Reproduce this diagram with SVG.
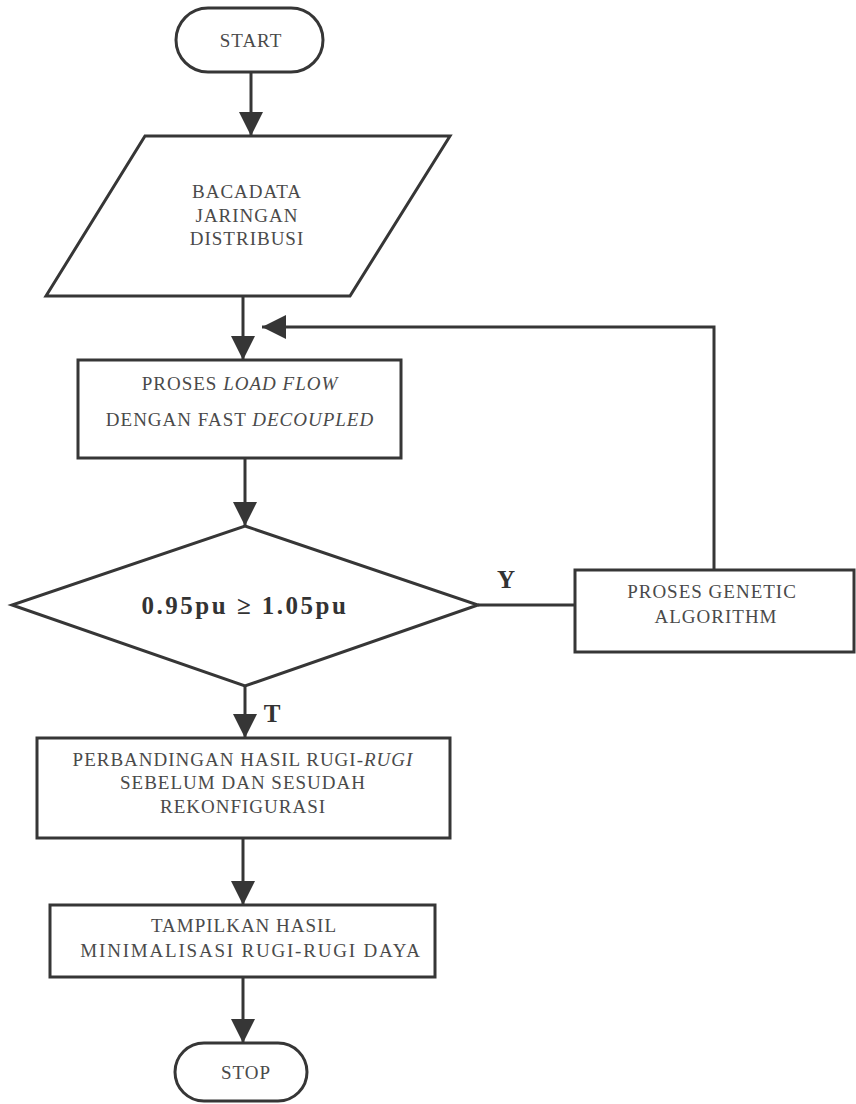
<svg xmlns="http://www.w3.org/2000/svg" width="856" height="1104" viewBox="0 0 856 1104">
  <style>
    .shape { fill: #ffffff; stroke: #363636; stroke-width: 3; }
    .line { fill: none; stroke: #363636; stroke-width: 3; }
    .txt { font-family: "Liberation Serif", "Times New Roman", serif; font-size: 19px; letter-spacing: 1px; fill: #4a4a4a; text-anchor: middle; }
    .wide { letter-spacing: 1.8px; }
    .bold { font-family: "Liberation Serif", "Times New Roman", serif; font-weight: bold; fill: #333333; text-anchor: middle; }
  </style>
  <defs>
    <marker id="arrow" viewBox="0 0 24 24" refX="24" refY="12" markerWidth="24" markerHeight="24" markerUnits="userSpaceOnUse" orient="auto">
      <path d="M0,0 L24,12 L0,24 Z" fill="#363636"/>
    </marker>
  </defs>
  <rect width="856" height="1104" fill="#ffffff"/>

  <g id="connectors">
    <line class="line" x1="251" y1="72" x2="251" y2="136" marker-end="url(#arrow)"/>
    <line class="line" x1="243" y1="296" x2="243" y2="360" marker-end="url(#arrow)"/>
    <polyline class="line" points="714,570 714,327 262,327" marker-end="url(#arrow)"/>
    <line class="line" x1="245" y1="458" x2="245" y2="526" marker-end="url(#arrow)"/>
    <line class="line" x1="478" y1="605" x2="575" y2="605"/>
    <line class="line" x1="245" y1="686" x2="245" y2="738" marker-end="url(#arrow)"/>
    <line class="line" x1="243" y1="838" x2="243" y2="905" marker-end="url(#arrow)"/>
    <line class="line" x1="243" y1="977" x2="243" y2="1043" marker-end="url(#arrow)"/>
    <text class="bold" x="506" y="588" font-size="25">Y</text>
    <text class="bold" x="272" y="722" font-size="25">T</text>
  </g>

  <g id="start">
    <rect class="shape" x="176" y="8" width="147" height="64" rx="32" ry="32"/>
    <text class="txt" x="251" y="47">START</text>
  </g>

  <g id="read-data">
    <polygon class="shape" points="145,136 450,136 350,296 46,296"/>
    <text class="txt" x="247" y="198">BACADATA</text>
    <text class="txt" x="247" y="222">JARINGAN</text>
    <text class="txt" x="247" y="245">DISTRIBUSI</text>
  </g>

  <g id="load-flow">
    <rect class="shape" x="78" y="360" width="323" height="98"/>
    <text class="txt" x="240" y="390">PROSES <tspan font-style="italic">LOAD FLOW</tspan></text>
    <text class="txt" x="240" y="426">DENGAN FAST <tspan font-style="italic">DECOUPLED</tspan></text>
  </g>

  <g id="decision">
    <polygon class="shape" points="245,526 478,605 245,686 12,605"/>
    <text class="bold" x="245" y="614" font-size="25" letter-spacing="2.5">0.95pu ≥ 1.05pu</text>
  </g>

  <g id="genetic">
    <rect class="shape" x="575" y="570" width="279" height="82"/>
    <text class="txt" x="712" y="598">PROSES GENETIC</text>
    <text class="txt" x="716" y="623">ALGORITHM</text>
  </g>

  <g id="compare">
    <rect class="shape" x="37" y="738" width="413" height="100"/>
    <text class="txt" x="243" y="766">PERBANDINGAN HASIL RUGI-<tspan font-style="italic">RUGI</tspan></text>
    <text class="txt" x="243" y="789">SEBELUM DAN SESUDAH</text>
    <text class="txt" x="243" y="813">REKONFIGURASI</text>
  </g>

  <g id="display">
    <rect class="shape" x="50" y="905" width="385" height="72"/>
    <text class="txt" x="244" y="932">TAMPILKAN HASIL</text>
    <text class="txt wide" x="251" y="957">MINIMALISASI RUGI-RUGI DAYA</text>
  </g>

  <g id="stop">
    <rect class="shape" x="175" y="1043" width="132" height="58" rx="29" ry="29"/>
    <text class="txt" x="246" y="1079">STOP</text>
  </g>
</svg>
